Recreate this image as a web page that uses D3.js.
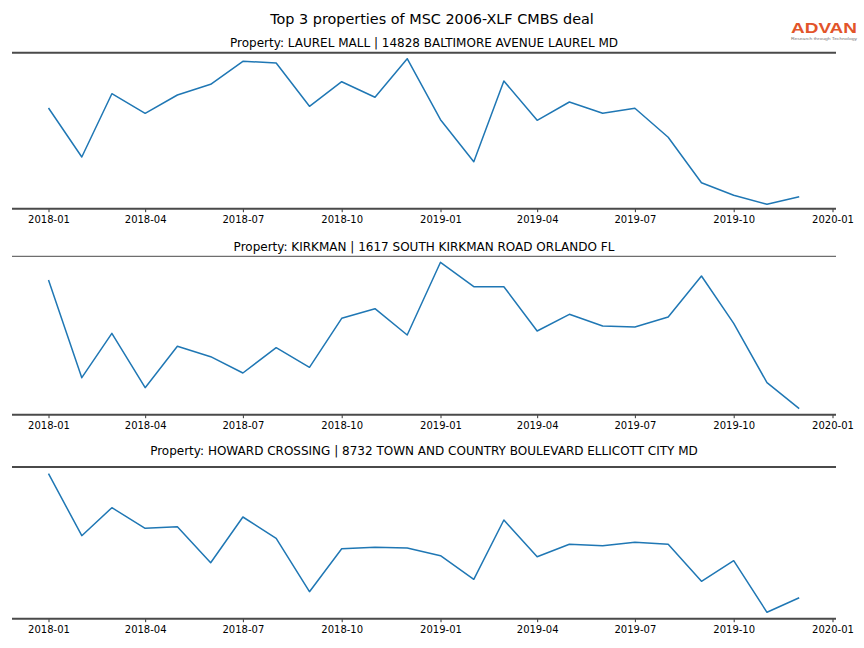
<!DOCTYPE html>
<html>
<head>
<meta charset="utf-8">
<script src="https://cdn.jsdelivr.net/npm/d3@7"></script>
<style>
  html, body { margin: 0; padding: 0; background: #fff; }
  svg { display: block; font-family: "DejaVu Sans", sans-serif; }
</style>
</head>
<body>
<svg id="chart" width="864" height="648"></svg>
<script>
// ---- Data (relative foot-traffic index) ----
const months = ["2018-01","2018-02","2018-03","2018-04","2018-05","2018-06","2018-07","2018-08","2018-09","2018-10","2018-11","2018-12",
                "2019-01","2019-02","2019-03","2019-04","2019-05","2019-06","2019-07","2019-08","2019-09","2019-10","2019-11","2019-12"];
const titles = [
  "Property: LAUREL MALL | 14828 BALTIMORE AVENUE LAUREL MD",
  "Property: KIRKMAN | 1617 SOUTH KIRKMAN ROAD ORLANDO FL",
  "Property: HOWARD CROSSING | 8732 TOWN AND COUNTRY BOULEVARD ELLICOTT CITY MD"
];
const laurelMall = [100.7, 51.7, 115, 95.4, 113.7, 124.4, 147.4, 145.7, 102.4, 127, 111.4, 150,
                    89, 47, 127.7, 88.4, 106.7, 95.4, 100.4, 71.4, 26, 13.4, 4.4, 12];
const kirkman = [134.7, 37, 81.4, 27, 68.4, 58, 41.7, 67, 47.4, 96.4, 106, 79.7,
                 152.4, 128, 128, 83.7, 100.4, 88.7, 87.7, 97.7, 138.7, 91.4, 32, 6];
const howardCrossing = [145, 83, 111, 90.4, 92, 56, 101.7, 80.4, 27, 70, 71.4, 70.7,
                        63, 39.4, 98.7, 62, 74.4, 73, 76.4, 74.4, 37.4, 58, 6.4, 21];
const tickLabels = ["2018-01","2018-04","2018-07","2018-10","2019-01","2019-04","2019-07","2019-10","2020-01"];
const yTops = [156, 158.4, 151.7]; // top of visible range (in value units)
const mainTitle = "Top 3 properties of MSC 2006-XLF CMBS deal";

// ---- Layout ----
const svg = d3.select("#chart");
const parse = d3.utcParse("%Y-%m");
const left = 12, right = 836;
const panels = [
  {top: 52.7, bottom: 208.7, topW: 2, titleY: 46.5, title: titles[0], values: laurelMall, yMax: yTops[0]},
  {top: 256.3, bottom: 414.7, topW: 1, titleY: 250.5, title: titles[1], values: kirkman, yMax: yTops[1]},
  {top: 467, bottom: 618.7, topW: 2, titleY: 454.5, title: titles[2], values: howardCrossing, yMax: yTops[2]}
];

const x = d3.scaleUtc()
  .domain([parse("2018-01"), parse("2020-01")])
  .range([48.5, 832.5]);

svg.append("text")
  .attr("x", 432).attr("y", 24)
  .attr("text-anchor", "middle")
  .attr("font-size", 14.4)
  .attr("fill", "#000")
  .text(mainTitle);

// logo
const logo = svg.append("g");
logo.append("text")
  .attr("x", 791).attr("y", 32.5)
  .attr("font-family", "Liberation Sans, Arial, sans-serif")
  .attr("font-size", 15.5)
  .attr("font-weight", "bold")
  .attr("textLength", 66)
  .attr("lengthAdjust", "spacingAndGlyphs")
  .attr("fill", "#e2542a")
  .text("ADVAN");
logo.append("text")
  .attr("x", 791).attr("y", 39.5)
  .attr("font-family", "Liberation Sans, Arial, sans-serif")
  .attr("font-size", 4.4)
  .attr("textLength", 66)
  .attr("lengthAdjust", "spacingAndGlyphs")
  .attr("fill", "#777")
  .text("Research through Technology");

panels.forEach(p => {
  const g = svg.append("g");
  const y = d3.scaleLinear().domain([0, p.yMax]).range([p.bottom, p.top]);

  g.append("text")
    .attr("x", (left + right) / 2).attr("y", p.titleY)
    .attr("text-anchor", "middle")
    .attr("font-size", 12)
    .attr("fill", "#000")
    .text(p.title);

  // top spine
  g.append("line")
    .attr("x1", left).attr("x2", right)
    .attr("y1", p.top).attr("y2", p.top)
    .attr("stroke", "#4a4a4a").attr("stroke-width", p.topW);

  // x axis
  const axis = d3.axisBottom(x)
    .tickValues(tickLabels.map(parse))
    .tickFormat(d3.utcFormat("%Y-%m"))
    .tickSize(3.5)
    .tickPadding(3.5)
    .tickSizeOuter(0);
  const ag = g.append("g")
    .attr("transform", `translate(0,${p.bottom})`)
    .call(axis);
  ag.select(".domain").remove();
  ag.selectAll(".tick line").attr("stroke", "#000").attr("stroke-width", 0.8);
  ag.selectAll(".tick text").attr("font-size", 10).attr("fill", "#000")
    .attr("font-family", "DejaVu Sans, sans-serif");

  g.append("line")
    .attr("x1", left).attr("x2", right)
    .attr("y1", p.bottom).attr("y2", p.bottom)
    .attr("stroke", "#4a4a4a").attr("stroke-width", 2);

  const line = d3.line()
    .x((d, i) => x(parse(months[i])))
    .y(d => y(d));
  g.append("path")
    .datum(p.values)
    .attr("d", line)
    .attr("fill", "none")
    .attr("stroke", "#1f77b4")
    .attr("stroke-width", 1.5)
    .attr("stroke-linejoin", "round");
});
</script>
</body>
</html>
